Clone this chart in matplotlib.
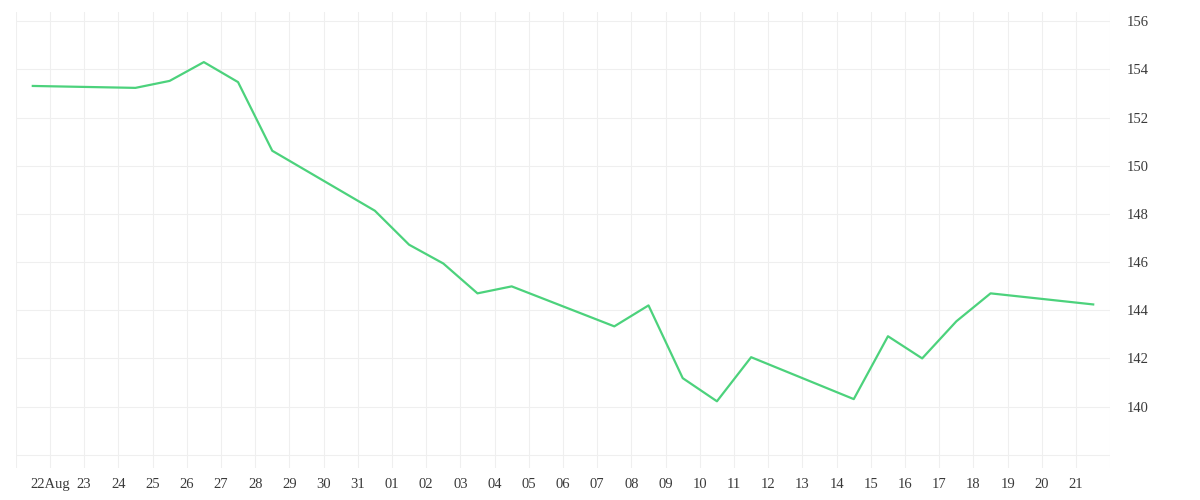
import numpy as np
import pandas as pd
import matplotlib
matplotlib.use("Agg")
import matplotlib.pyplot as plt
import matplotlib.dates as mdates

plt.rcParams['font.family'] = ['Liberation Serif', 'DejaVu Serif']

# daily closes, plotted at midday of each trading day
dates = ['2020-08-21', '2020-08-24', '2020-08-25', '2020-08-26', '2020-08-27',
         '2020-08-28', '2020-08-31', '2020-09-01', '2020-09-02', '2020-09-03',
         '2020-09-04', '2020-09-07', '2020-09-08', '2020-09-09', '2020-09-10',
         '2020-09-11', '2020-09-14', '2020-09-15', '2020-09-16', '2020-09-17',
         '2020-09-18', '2020-09-21']
prices = [153.31, 153.23, 153.52, 154.30, 153.47,
          150.62, 148.13, 146.72, 145.94, 144.70,
          144.99, 143.33, 144.20, 141.18, 140.22,
          142.05, 140.31, 142.92, 142.00, 143.54,
          144.70, 144.24]

tick_days = pd.date_range('2020-08-21', '2020-09-22', freq='D')
tick_labels = [''] + ['22Aug'] + ['%02d' % d.day for d in tick_days[2:-1]] + ['']
y_ticks = [138, 140, 142, 144, 146, 148, 150, 152, 154, 156]
y_labels = [''] + [str(v) for v in y_ticks[1:]]

x = pd.to_datetime(dates) + pd.Timedelta(hours=12)

fig = plt.figure(figsize=(12, 5), dpi=100)
ax = fig.add_axes([15.7 / 1200, 32 / 500, (1110.3 - 15.7) / 1200, 456 / 500])

ax.plot(x, prices, color='#4cd27c', linewidth=1.6)

ax.set_xlim(tick_days[0], tick_days[-1])
ax.set_ylim(137.45, 156.38)

ax.set_xticks(tick_days)
ax.set_xticklabels(tick_labels)
ax.set_yticks(y_ticks)
ax.set_yticklabels(y_labels)
ax.yaxis.tick_right()

ax.grid(True, color='#efefef', linewidth=0.75)
ax.set_axisbelow(True)
for s in ax.spines.values():
    s.set_visible(False)

ax.tick_params(axis='x', length=0, pad=7, labelsize=10.5, colors='#3a3a3a')
ax.tick_params(axis='y', length=0, pad=12, labelsize=10.5, colors='#3a3a3a')

fig.savefig('out.png', dpi=100, facecolor='white')
